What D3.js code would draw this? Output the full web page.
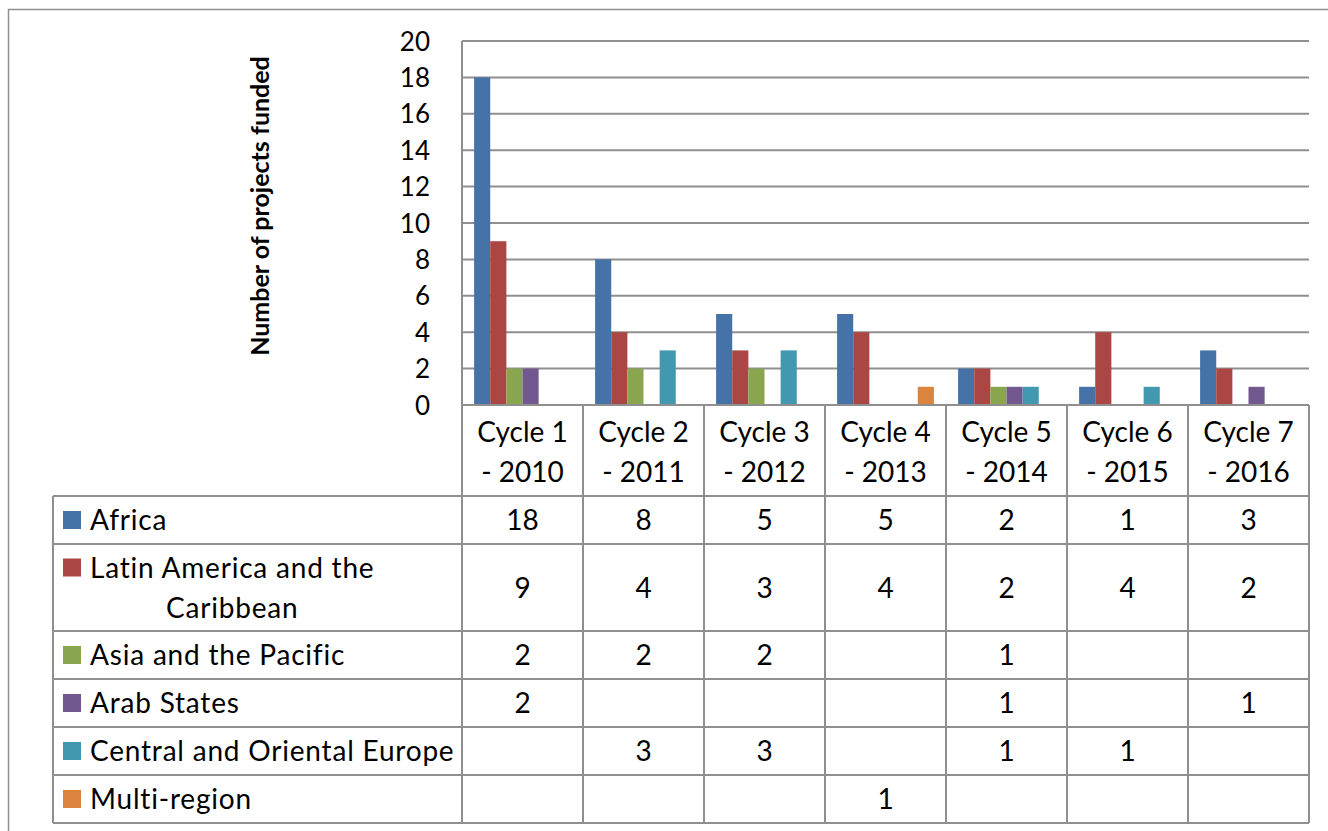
<!DOCTYPE html>
<html>
<head>
<meta charset="utf-8">
<script src="https://cdn.jsdelivr.net/npm/d3@7"></script>
<style>
  html, body { margin: 0; padding: 0; background: #fff; }
  svg { display: block; font-family: Lato, "Open Sans", sans-serif; }
</style>
</head>
<body>
<svg id="chart" width="1328" height="831"></svg>
<script>
// ---- data ----
const categories = ["Cycle 1 - 2010", "Cycle 2 - 2011", "Cycle 3 - 2012", "Cycle 4 - 2013", "Cycle 5 - 2014", "Cycle 6 - 2015", "Cycle 7 - 2016"];
const categoryLines = [["Cycle 1", "- 2010"], ["Cycle 2", "- 2011"], ["Cycle 3", "- 2012"], ["Cycle 4", "- 2013"], ["Cycle 5", "- 2014"], ["Cycle 6", "- 2015"], ["Cycle 7", "- 2016"]];
const seriesNames = ["Africa", "Latin America and the Caribbean", "Asia and the Pacific", "Arab States", "Central and Oriental Europe", "Multi-region"];
const seriesLabelLines = [["Africa"], ["Latin America and the", "Caribbean"], ["Asia and the Pacific"], ["Arab States"], ["Central and Oriental Europe"], ["Multi-region"]];
const africa = [18, 8, 5, 5, 2, 1, 3];
const latinAmerica = [9, 4, 3, 4, 2, 4, 2];
const asiaPacific = [2, 2, 2, null, 1, null, null];
const arabStates = [2, null, null, null, 1, null, 1];
const centralEurope = [null, 3, 3, null, 1, 1, null];
const multiRegion = [null, null, null, 1, null, null, null];
const yTicks = [0, 2, 4, 6, 8, 10, 12, 14, 16, 18, 20];
const yTitle = "Number of projects funded";
const colors = ["#4572A7", "#AA4643", "#89A54E", "#71588F", "#4198AF", "#DB843D"];

const seriesValues = [africa, latinAmerica, asiaPacific, arabStates, centralEurope, multiRegion];

// ---- layout ----
const svg = d3.select("#chart");
const plotL = 462, plotR = 1309, plotT = 41, plotB = 405;
const tableL = 53;
const rowEdges = [496, 544, 631, 679, 727, 775, 823];
const gridColor = "#8f8f8f";
const fontSize = 28;

// outer frame
svg.append("rect").attr("x", 8.5).attr("y", 9.5).attr("width", 1340).attr("height", 840)
  .attr("fill", "none").attr("stroke", gridColor).attr("stroke-width", 1.5);

const x = d3.scaleBand().domain(categories).range([plotL, plotR]).paddingInner(0).paddingOuter(0);
const bw = x.bandwidth();
const xs = d3.scaleBand().domain(seriesNames).range([bw * 0.1, bw * 0.9]);
const y = d3.scaleLinear().domain([0, 20]).range([plotB, plotT]);

// gridlines
svg.append("g").selectAll("line").data(yTicks).join("line")
  .attr("x1", plotL).attr("x2", plotR)
  .attr("y1", d => y(d)).attr("y2", d => y(d))
  .attr("stroke", gridColor).attr("stroke-width", 2);

// y axis (labels only)
const yAxis = d3.axisLeft(y).tickValues(yTicks).tickSize(0).tickPadding(0);
const gy = svg.append("g").attr("transform", `translate(${plotL - 32},0)`).call(yAxis);
gy.select(".domain").remove();
gy.selectAll("text").attr("font-size", 26).attr("fill", "#000")
  .attr("font-family", "Lato, sans-serif").attr("dy", "0.35em");

// axis line
svg.append("line").attr("x1", plotL).attr("x2", plotL).attr("y1", plotT).attr("y2", plotB)
  .attr("stroke", gridColor).attr("stroke-width", 2);

// y title
svg.append("text").attr("transform", `translate(269,206) rotate(-90)`)
  .attr("text-anchor", "middle").attr("font-weight", "bold").attr("font-size", 25)
  .attr("fill", "#000").text(yTitle);

// bars
const bars = [];
seriesValues.forEach((vals, si) => vals.forEach((v, ci) => {
  if (v != null) bars.push({ s: seriesNames[si], si, c: categories[ci], v });
}));
svg.append("g").selectAll("rect").data(bars).join("rect")
  .attr("x", d => x(d.c) + xs(d.s))
  .attr("width", xs.bandwidth())
  .attr("y", d => y(d.v))
  .attr("height", d => y(0) - y(d.v))
  .attr("fill", d => colors[d.si]);

// ---- data table ----
const tbl = svg.append("g");
const lineAttrs = sel => sel.attr("stroke", gridColor).attr("stroke-width", 2);
rowEdges.forEach((ry) => {
  tbl.append("line").attr("x1", tableL).attr("x2", plotR).attr("y1", ry).attr("y2", ry).call(lineAttrs);
});
tbl.append("line").attr("x1", plotL).attr("x2", plotR).attr("y1", plotB).attr("y2", plotB).call(lineAttrs);
tbl.append("line").attr("x1", tableL).attr("x2", tableL).attr("y1", rowEdges[0]).attr("y2", rowEdges[rowEdges.length - 1]).call(lineAttrs);
const colEdges = categories.map(c => x(c)).concat([plotR]);
colEdges.forEach(cx => {
  tbl.append("line").attr("x1", cx).attr("x2", cx).attr("y1", plotB).attr("y2", rowEdges[rowEdges.length - 1]).call(lineAttrs);
});

// header labels
categories.forEach((c, ci) => {
  const t = tbl.append("text").attr("text-anchor", "middle").attr("font-size", fontSize).attr("fill", "#000");
  categoryLines[ci].forEach((ln, li) => {
    t.append("tspan").attr("x", x(c) + bw / 2).attr("y", 442 + li * 40).text(ln);
  });
});

// series rows
seriesNames.forEach((s, si) => {
  const top = rowEdges[si], bot = rowEdges[si + 1];
  const mid = (top + bot) / 2;
  const lines = seriesLabelLines[si];
  const lh = 40;
  const firstCenter = mid - (lines.length - 1) * lh / 2;
  tbl.append("rect").attr("x", 63).attr("y", firstCenter - 9).attr("width", 18).attr("height", 18)
    .attr("fill", colors[si]);
  const t = tbl.append("text").attr("font-size", fontSize).attr("fill", "#000")
    .attr("letter-spacing", "0.8px");
  lines.forEach((ln, li) => {
    t.append("tspan").attr("y", firstCenter + li * lh).attr("dy", "0.36em").text(ln);
  });
  if (lines.length === 1) {
    t.attr("text-anchor", "start").selectAll("tspan").attr("x", 90);
  } else {
    // centre wrapped lines on the first line's centre
    const w0 = t.select("tspan").node().getComputedTextLength();
    const cx = 90 + w0 / 2;
    t.attr("text-anchor", "middle").selectAll("tspan").attr("x", cx);
  }
  seriesValues[si].forEach((v, ci) => {
    if (v == null) return;
    tbl.append("text").attr("x", x(categories[ci]) + bw / 2).attr("y", mid).attr("dy", "0.36em")
      .attr("text-anchor", "middle").attr("font-size", fontSize).attr("fill", "#000").text(v);
  });
});
</script>
</body>
</html>
